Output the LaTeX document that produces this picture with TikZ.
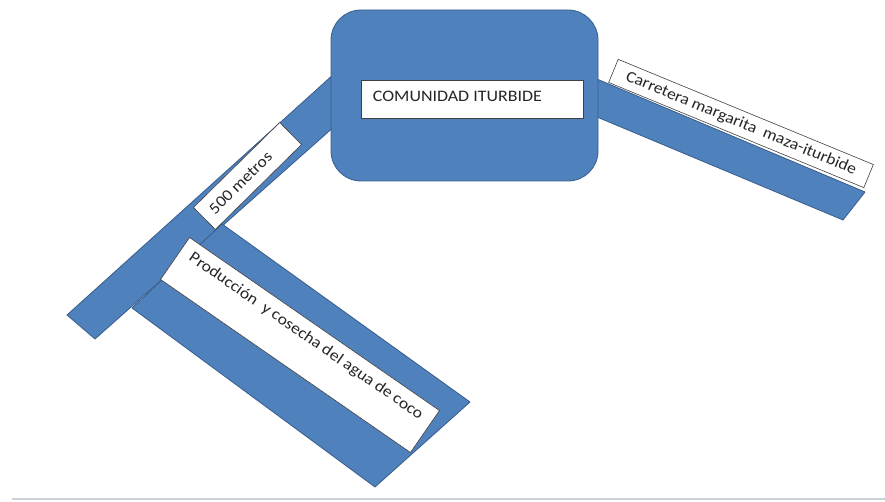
\documentclass[tikz,border=0pt]{standalone}
\usepackage{fontspec}
\setmainfont{Carlito}
\usetikzlibrary{calc}
\definecolor{roadblue}{RGB}{79,129,189}
\definecolor{roadedge}{RGB}{56,93,138}
\definecolor{rulegray}{RGB}{205,209,213}

\begin{document}
\begin{tikzpicture}[x=1pt,y=-1pt,
    road/.style={fill=roadblue, draw=roadedge, line width=0.8pt, line join=round},
    tag/.style={draw=black!75, fill=white, line width=0.6pt, inner sep=0pt},
    tagtext/.style={font=\fontsize{16}{18}\selectfont, text=black!85, inner sep=0pt}]
      \useasboundingbox (0,0) rectangle (885,502);
      % camino de 500 metros
      \draw[road] (67,315) -- (95,339) -- (345,117) -- (345,64) -- cycle;
      % parcela
      \draw[road] (132,308) -- (222,224) -- (470,402) -- (375,487) -- cycle;
      \node[tag, minimum width=121pt, minimum height=31pt, rotate=44.6] (metros) at (247.5,176) {};
      \node[tagtext, rotate=44.6, xscale=1.1] at ($(metros.center)!0.16!(metros.west)$) {500 metros};
      \node[tag, minimum width=304pt, minimum height=51pt, rotate=-34.7] (parcela) at (300,345) {};
      \node[tagtext, anchor=north, rotate=-34.7, xscale=1.1] at ($(parcela.north)!0.16!(parcela.south)$) {Producción \ y cosecha del agua de coco};
      % carretera
      \draw[road] (585,74) -- (865,192) -- (843,220) -- (585,112) -- cycle;
      \node[tag, minimum width=276pt, minimum height=25pt, rotate=-22.4] (carretera) at (741,123.5) {};
      \node[tagtext, rotate=-22.4, xscale=1.1] at (carretera) {Carretera margarita \ maza-iturbide};
      % comunidad
      \node[road, rounded corners=30pt, minimum width=267pt, minimum height=171pt] (comunidad) at (464.5,95.5) {};
      \node[tag, minimum width=222pt, minimum height=38pt] (comlabel) at (472,99) {};
      \node[tagtext, anchor=west, xscale=1.12] at ($(comlabel.west)+(12,-3)$) {COMUNIDAD ITURBIDE};
      \draw[rulegray, line width=2pt] (12,499) -- (885,499);
    \end{tikzpicture}
\end{document}
